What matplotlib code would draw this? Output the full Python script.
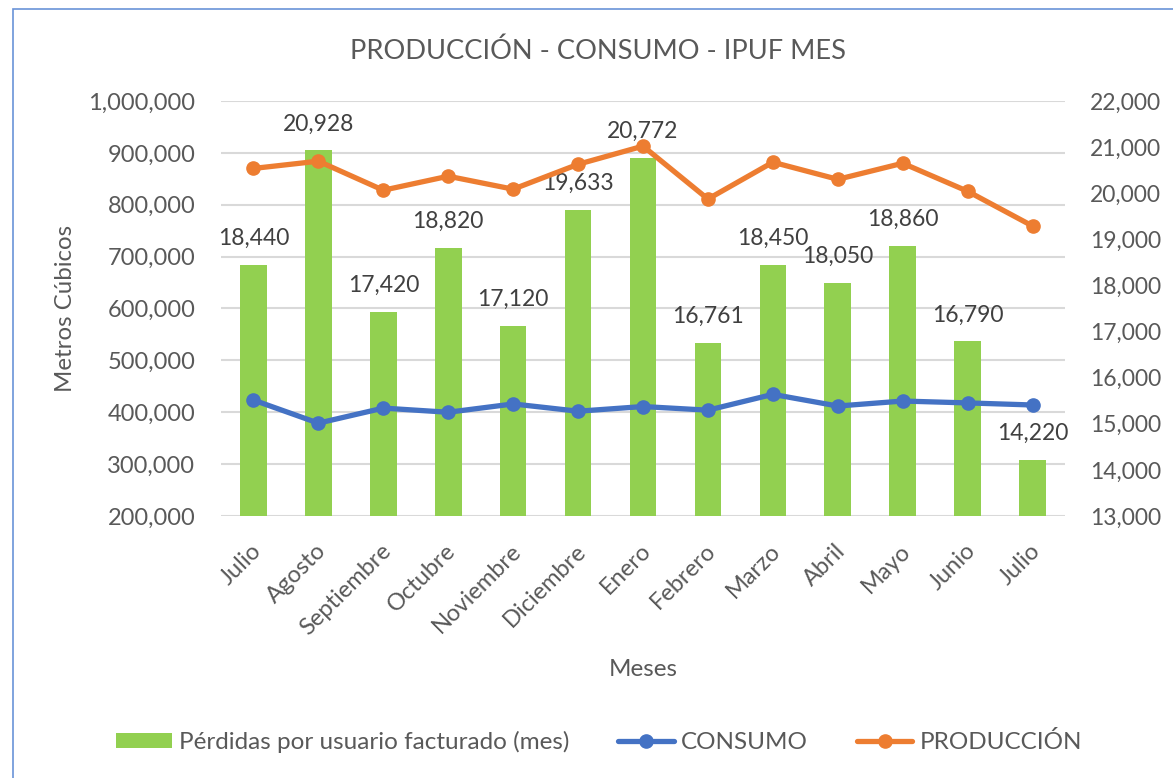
import matplotlib
matplotlib.use("Agg")
import matplotlib.pyplot as plt
from matplotlib.patches import Rectangle
from matplotlib.ticker import FuncFormatter, MultipleLocator
from matplotlib.transforms import ScaledTranslation
import numpy as np

months = ["Julio", "Agosto", "Septiembre", "Octubre", "Noviembre", "Diciembre",
          "Enero", "Febrero", "Marzo", "Abril", "Mayo", "Junio", "Julio"]
perdidas = [18440, 20928, 17420, 18820, 17120, 19633, 20772, 16761, 18450,
            18050, 18860, 16790, 14220]
consumo = [423500, 379000, 408000, 400000, 416000, 402000, 411000, 404000,
           434500, 412000, 421600, 418000, 414000]
produccion = [870000, 884000, 828000, 855000, 830000, 878000, 913000, 811000,
              882000, 849000, 880000, 826000, 759000]

GREEN = "#92D050"
BLUE = "#4472C4"
ORANGE = "#ED7D31"
TXT = "#595959"
LBL = "#404040"
GRID = "#D9D9D9"
FONT = "Lato"

plt.rcParams["font.family"] = [FONT, "DejaVu Sans"]

fig = plt.figure(figsize=(11.73, 7.78), dpi=100)
fig.patches.append(Rectangle((13/1173, -0.05), 1.2, 1 - 9/778 + 0.05,
                             transform=fig.transFigure, fill=False,
                             edgecolor="#6A93D8", linewidth=1.2))

L, R, T, B = 221, 1065, 101, 516
ax1 = fig.add_axes([L/1173, 1 - B/778, (R-L)/1173, (B-T)/778])
ax2 = ax1.twinx()

x = np.arange(len(months))

bars = ax2.bar(x, perdidas, width=0.41, color=GREEN, zorder=2,
               label="Pérdidas por usuario facturado (mes)")
for xi, v in zip(x, perdidas):
    ax2.annotate(f"{v:,}", (xi, v), xytext=(0, 19), textcoords="offset points",
                 ha="center", va="center", fontsize=16.5, color=LBL)
ax2.set_ylim(13000, 22000)
ax2.yaxis.set_major_locator(MultipleLocator(1000))

ax1.set_zorder(ax2.get_zorder() + 1)
ax1.patch.set_visible(False)
l1, = ax1.plot(x, consumo, color=BLUE, lw=3.8, marker="o", ms=9.5,
               label="CONSUMO", solid_capstyle="round")
l2, = ax1.plot(x, produccion, color=ORANGE, lw=3.8, marker="o", ms=9.5,
               label="PRODUCCIÓN", solid_capstyle="round")
ax1.set_ylim(200000, 1000000)
ax1.yaxis.set_major_locator(MultipleLocator(100000))
ax1.set_xlim(-0.5, len(months) - 0.5)

fmt = FuncFormatter(lambda v, p: f"{int(v):,}")
ax1.yaxis.set_major_formatter(fmt)
ax2.yaxis.set_major_formatter(fmt)

# gridlines from primary axis, drawn under bars
for v in np.arange(200000, 1000001, 100000):
    yy = (v - 200000) / 800000 * 9000 + 13000
    ax2.axhline(yy, color=GRID, lw=1.5, zorder=0)

for ax in (ax1, ax2):
    for s in ax.spines.values():
        s.set_visible(False)
    ax.tick_params(axis="both", length=0, colors=TXT)

ax1.tick_params(axis="y", pad=18.5, labelsize=17)
ax2.tick_params(axis="y", pad=18, labelsize=16.5)

ax1.set_xticks(x)
ax1.set_xticklabels(months, rotation=45, ha="right", va="top",
                    rotation_mode="anchor", fontsize=17)
ax1.tick_params(axis="x", pad=0)
off = ScaledTranslation(-3/100, -24/100, fig.dpi_scale_trans)
for lab in ax1.get_xticklabels():
    lab.set_transform(lab.get_transform() + off)

ax1.set_ylabel("Metros Cúbicos", fontsize=17.3, color=TXT, va="center")
ax1.yaxis.set_label_coords((65 - L) / (R - L), 0.5)
ax1.set_xlabel("Meses", fontsize=17.5, color=TXT, va="center")
ax1.xaxis.set_label_coords(0.5, -(670 - B) / (B - T))

fig.text(598/1173, 1 - 51/778, "PRODUCCIÓN - CONSUMO - IPUF MES", ha="center",
         va="center", fontsize=19.6, color=TXT)

fig.legend(handles=[bars, l1, l2], loc="center", bbox_to_anchor=(599/1173, 1 - 742/778),
           ncol=3, frameon=False, fontsize=17.5, labelcolor=TXT,
           handlelength=2.3, handleheight=0.6, handletextpad=0.3,
           columnspacing=2.0)

fig.savefig("out.png", dpi=100)
